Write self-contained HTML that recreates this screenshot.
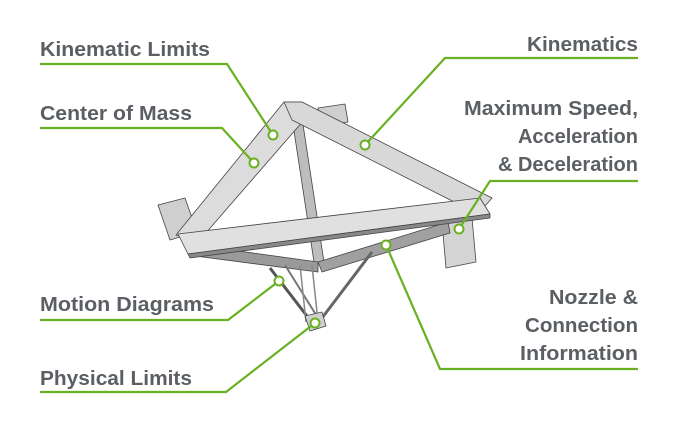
<!DOCTYPE html>
<html><head><meta charset="utf-8"><style>
html,body{margin:0;padding:0;background:#fff;}
svg{display:block;}
text{font-family:"Liberation Sans",sans-serif;font-size:20px;fill:#5b5f63;font-weight:bold;}
</style></head><body>
<svg width="680" height="436" viewBox="0 0 680 436" xmlns="http://www.w3.org/2000/svg">
<g stroke="#444" stroke-width="0.8" stroke-linejoin="round">
  <polygon points="158,205 185,198 197,232 170,240" fill="#cfcfcf"/>
  <polygon points="442,222 472,218 476,262 446,268" fill="#d4d4d4"/>
  <polygon points="318,108 345,104 348,122 322,126" fill="#cfcfcf"/>
  <polygon points="292,118 302,118 324,262 314,262" fill="#bdbdbd"/>
  <polygon points="195,245 318,262 318,272 195,256" fill="#9a9a9a"/>
  <polygon points="318,262 448,222 450,233 322,272" fill="#a0a0a0"/>
  <line x1="270" y1="268" x2="310" y2="320" stroke="#555" stroke-width="3"/>
  <line x1="285" y1="265" x2="318" y2="318" stroke="#777" stroke-width="2"/>
  <line x1="372" y1="252" x2="322" y2="318" stroke="#666" stroke-width="3"/>
  <line x1="300" y1="265" x2="306" y2="322" stroke="#888" stroke-width="1.5"/>
  <line x1="312" y1="265" x2="318" y2="322" stroke="#888" stroke-width="1.5"/>
  <polygon points="305,316 322,312 326,326 310,331" fill="#d0d0d0"/>
  <polygon points="176,235 284,102 302,102 304,120 198,242" fill="#dcdcdc"/>
  <polygon points="284,102 302,102 492,198 478,214 292,120" fill="#d8d8d8"/>
  <polygon points="178,234 480,198 490,214 188,254" fill="#e0e0e0"/>
  <polygon points="188,254 490,214 490,218 190,258" fill="#888"/>
</g>
<g stroke="#6ab023" stroke-width="2.2" fill="none">
  <polyline points="40,64 227,64 273,135"/>
  <polyline points="40,128 222,128 254,163"/>
  <polyline points="638,58 445,58 365,145"/>
  <polyline points="638,181 490,181 459,229"/>
  <polyline points="40,320 228,320 279,281"/>
  <polyline points="40,392 226,392 315,323"/>
  <polyline points="638,369 440,369 386,245"/>
</g>
<g fill="#fff" stroke="#6ab023" stroke-width="2">
  <circle cx="273" cy="135" r="4.5"/>
  <circle cx="254" cy="163" r="4.5"/>
  <circle cx="365" cy="145" r="4.5"/>
  <circle cx="459" cy="229" r="4.5"/>
  <circle cx="279" cy="281" r="4.5"/>
  <circle cx="315" cy="323" r="4.5"/>
  <circle cx="386" cy="245" r="4.5"/>
</g>
<text x="40" y="56" textLength="170" lengthAdjust="spacingAndGlyphs">Kinematic Limits</text>
<text x="40" y="120" textLength="152" lengthAdjust="spacingAndGlyphs">Center of Mass</text>
<text x="527" y="51" textLength="111" lengthAdjust="spacingAndGlyphs">Kinematics</text>
<text x="464" y="115" textLength="174" lengthAdjust="spacingAndGlyphs">Maximum Speed,</text>
<text x="638" y="143" text-anchor="end">Acceleration</text>
<text x="638" y="171" text-anchor="end">&amp; Deceleration</text>
<text x="40" y="311" textLength="174" lengthAdjust="spacingAndGlyphs">Motion Diagrams</text>
<text x="40" y="385" textLength="152" lengthAdjust="spacingAndGlyphs">Physical Limits</text>
<text x="549" y="304" textLength="89" lengthAdjust="spacingAndGlyphs">Nozzle &amp;</text>
<text x="525" y="332" textLength="113" lengthAdjust="spacingAndGlyphs">Connection</text>
<text x="520" y="360" textLength="118" lengthAdjust="spacingAndGlyphs">Information</text>
</svg>
</body></html>
